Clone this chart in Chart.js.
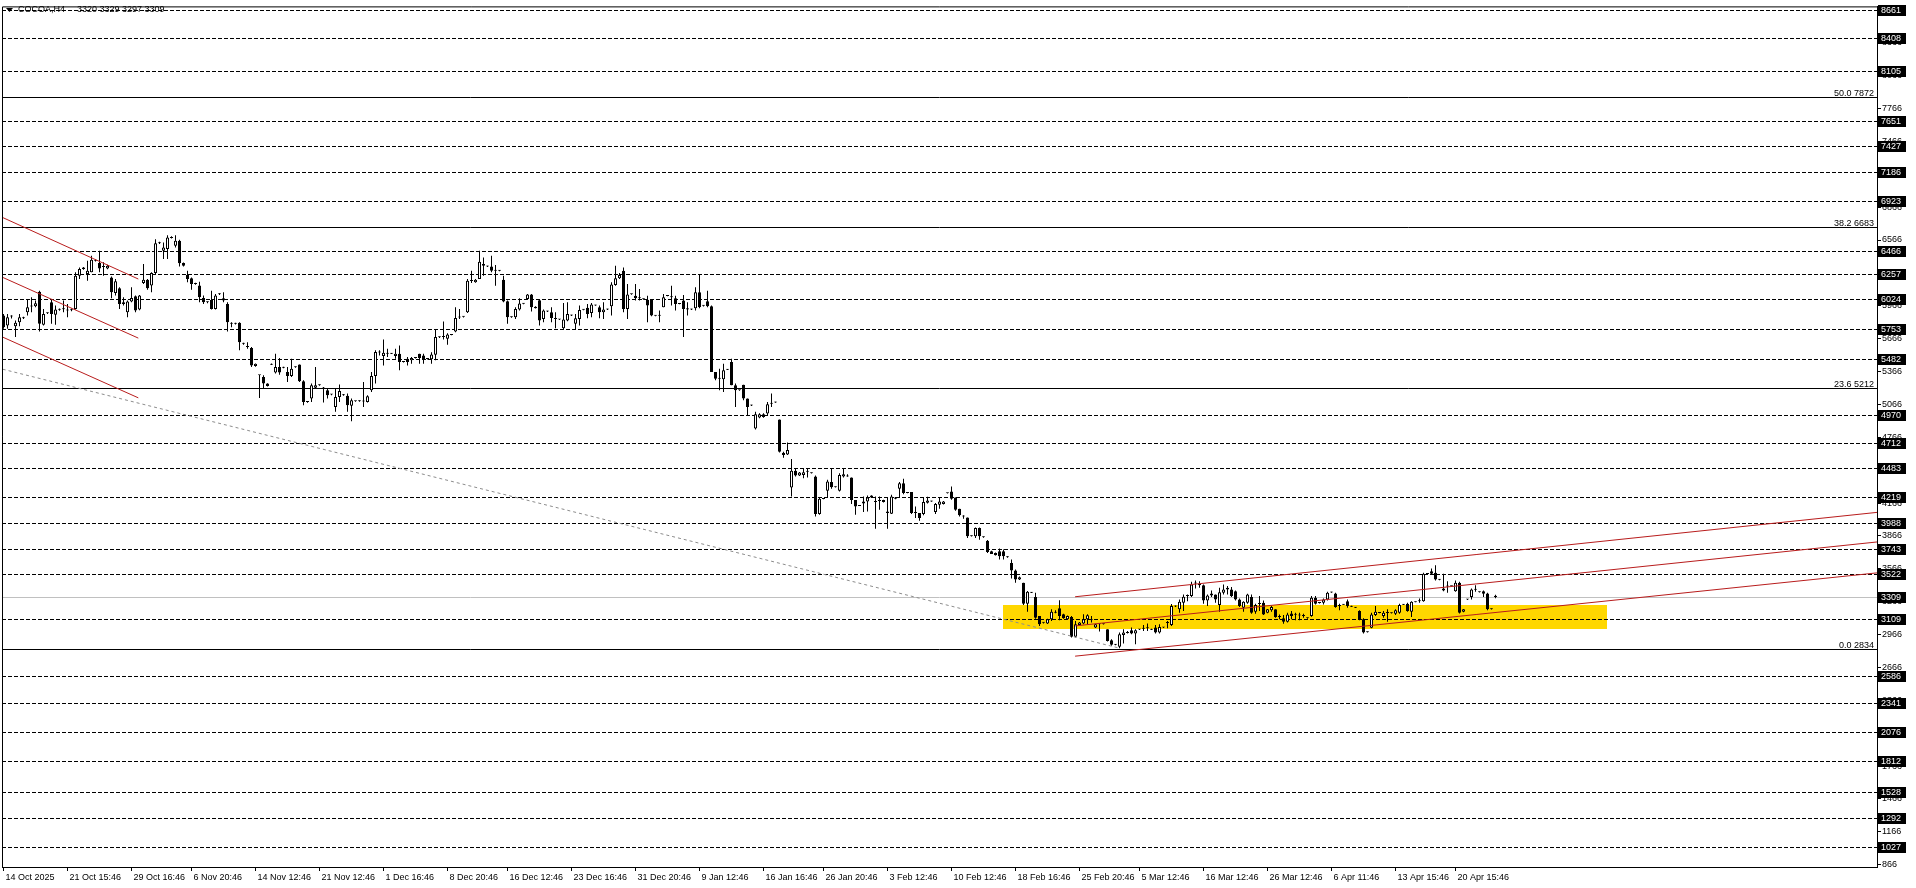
<!DOCTYPE html>
<html>
<head>
<meta charset="utf-8">
<title>COCOA,H4</title>
<script src="https://cdn.jsdelivr.net/npm/chart.js@4.4.1/dist/chart.umd.min.js"></script>
<style>
  html, body { margin: 0; padding: 0; background: #fff; }
  #wrap { width: 1916px; height: 888px; }
</style>
</head>
<body>
<div id="wrap"><canvas id="chartCocoa" width="1916" height="888"></canvas></div>
<script>
// COCOA H4 - velas (una por barra, 374 barras)
const opens = [
  5877,5786,5868,5780,5816,5855,5907,5959,5962,6095, 5792,5898,5998,5883,5929,5935,5930,5925,5937,6240,
  6301,6256,6271,6380,6356,6320,6307,6225,6083,6125, 5983,5907,6004,6053,5931,6174,6204,6150,6265,6537,
  6468,6483,6585,6513,6559,6356,6247,6216,6168,6150, 6037,6000,6019,5937,6070,6034,5983,5805,5803,5810,
  5622,5595,5580,5416,5333,5316,5256,5430,5356,5407, 5400,5362,5325,5405,5431,5277,5090,5119,5219,5243,
  5212,5195,5158,5043,5134,5155,5144,5053,5095,5097, 5092,5089,5195,5325,5540,5507,5528,5530,5507,5528,
  5456,5483,5468,5490,5528,5513,5480,5477,5519,5678, 5680,5664,5700,5731,5858,5865,5907,6192,6180,6210,
  6346,6327,6325,6288,6286,6204,6007,5863,5861,5931, 5984,6028,6068,5958,6016,5846,5916,5907,5855,5842,
  5761,5831,5878,5801,5846,5929,5949,5901,5970,5952, 5907,5933,5961,6155,6216,6286,5937,6070,6058,6037,
  6028,6022,6022,5875,5875,5952,6055,6045,6034,5985, 6013,5943,5933,5943,6089,5965,6007,5961,5362,5305,
  5295,5383,5453,5240,5197,5246,5119,5055,4846,4946, 4977,4983,5072,5083,4928,4625,4610,4308,4460,4417,
  4423,4452,4440,4408,4066,4203,4278,4357,4313,4278, 4408,4410,4399,4193,4140,4163,4181,4217,4181,4185,
  4175,4090,4069,4217,4296,4347,4260,4266,4078,4075, 4066,4169,4183,4084,4151,4157,4255,4272,4217,4114,
  4047,4035,3866,3863,3938,3855,3823,3726,3711,3726, 3726,3675,3620,3551,3469,3439,3248,3350,3308,3135,
  3073,3066,3105,3168,3205,3151,3105,3126,2945,3054, 3066,3105,3100,3030,3062,3063,3014,2914,2875,2854,
  2963,2983,3005,2975,3012,3020,3025,3013,3030,2984, 3032,3072,3054,3222,3196,3256,3317,3317,3432,3429,
  3417,3277,3323,3332,3235,3347,3377,3377,3362,3287, 3211,3256,3308,3174,3244,3256,3165,3187,3196,3128,
  3114,3084,3159,3147,3140,3138,3117,3135,3302,3253, 3256,3287,3350,3341,3226,3238,3271,3223,3213,3180,
  3105,2988,3029,3144,3162,3135,3162,3160,3156,3165, 3238,3247,3174,3262,3270,3271,3518,3544,3529,3466,
  3368,3405,3406,3362,3438,3174,3285,3308,3375,3353, 3362,3341,3198,3320
];
const highs = [
  5892,5892,5880,5831,5892,5866,6028,6044,6013,6104, 5937,5905,6028,5968,5940,6013,5983,5940,6271,6316,
  6320,6377,6422,6390,6468,6362,6340,6234,6210,6134, 6044,6013,6134,6059,6065,6347,6210,6271,6574,6550,
  6543,6610,6600,6610,6568,6360,6286,6225,6175,6186, 6059,6005,6104,6074,6080,6089,5998,5816,5810,5816,
  5628,5634,5589,5440,5335,5331,5260,5440,5528,5489, 5410,5407,5483,5412,5431,5286,5095,5256,5407,5248,
  5225,5210,5162,5210,5247,5160,5165,5119,5100,5103, 5271,5150,5362,5559,5559,5658,5574,5535,5574,5604,
  5462,5498,5498,5495,5528,5528,5486,5543,5749,5685, 5822,5716,5706,5952,5937,5870,6210,6286,6210,6467,
  6407,6332,6422,6337,6292,6240,6013,5868,5952,6034, 5990,6074,6074,5962,6022,5931,5920,5952,5907,5846,
  5992,5998,5884,5892,5968,5935,5983,5992,5975,5968, 5998,5938,6180,6331,6264,6316,6164,6076,6164,6119,
  6032,6058,6022,5880,5922,6074,6062,6149,6058,5990, 6064,5998,5938,6134,6255,5970,6104,5968,5362,5392,
  5437,5390,5483,5256,5200,5246,5119,5062,4998,4985, 4985,5089,5165,5090,4928,4634,4719,4569,4478,4450,
  4484,4484,4445,4417,4217,4208,4378,4478,4318,4438, 4478,4429,4399,4193,4146,4226,4235,4238,4226,4226,
  4196,4217,4241,4222,4357,4387,4265,4266,4135,4075, 4211,4223,4188,4166,4217,4185,4260,4317,4217,4114,
  4054,4035,3870,3944,3944,3860,3829,3730,3715,3751, 3742,3680,3651,3560,3495,3439,3363,3355,3348,3135,
  3078,3110,3196,3187,3278,3155,3140,3135,3090,3080, 3151,3151,3135,3065,3066,3067,3014,2923,2880,2984,
  3014,2999,3030,3014,3017,3054,3066,3018,3054,3060, 3036,3090,3245,3232,3287,3332,3332,3447,3459,3453,
  3423,3332,3368,3332,3393,3423,3408,3399,3368,3296, 3271,3338,3332,3247,3317,3277,3200,3226,3196,3150,
  3144,3165,3180,3165,3165,3156,3122,3317,3317,3258, 3296,3356,3356,3347,3247,3243,3287,3228,3218,3187,
  3114,2993,3165,3226,3168,3180,3196,3168,3196,3247, 3244,3256,3271,3268,3296,3529,3524,3568,3599,3472,
  3520,3453,3412,3459,3447,3200,3290,3387,3417,3359, 3368,3347,3203,3329
];
const lows = [
  5756,5756,5850,5680,5780,5845,5877,5907,5953,5731, 5786,5890,5801,5792,5920,5907,5862,5915,5931,6210,
  6295,6195,6271,6370,6271,6240,6300,6034,6059,5937, 5968,5862,5998,5907,5925,6165,6113,6089,6256,6530,
  6392,6392,6580,6498,6325,6325,6180,6113,6158,5998, 5983,5990,5931,5931,6065,5998,5731,5771,5795,5559,
  5610,5574,5407,5410,5125,5210,5230,5425,5347,5337, 5395,5271,5316,5400,5271,5059,5080,5089,5210,5236,
  5083,5119,5150,4998,5089,5145,4998,4913,5090,5090, 5043,5083,5180,5256,5513,5422,5498,5525,5483,5377,
  5448,5422,5437,5485,5437,5437,5475,5437,5468,5672, 5658,5610,5696,5725,5846,5860,5901,6174,6176,6210,
  6240,6320,6271,6149,6282,5998,5801,5856,5846,5922, 5980,6022,5913,5940,5786,5816,5910,5816,5761,5836,
  5755,5825,5872,5749,5786,5925,5852,5861,5965,5852, 5846,5928,5877,6149,6210,5907,5846,6066,6013,6013,
  6020,5816,5871,5870,5816,5952,6052,5968,5922,5980, 5680,5877,5928,5922,5943,5960,5952,5362,5286,5195,
  5180,5380,5240,5043,5190,5104,4968,5052,4837,4940, 4945,4968,5043,5080,4628,4580,4604,4226,4408,4412,
  4393,4399,4435,4044,4060,4200,4211,4296,4308,4272, 4399,4405,4157,4060,4138,4084,4090,4212,3932,4105,
  4170,3932,4066,4200,4211,4247,4255,4066,4029,4005, 4054,4163,4178,4066,4114,4152,4252,4196,4096,4044,
  4023,3848,3860,3848,3832,3850,3711,3700,3688,3651, 3651,3668,3478,3439,3465,3235,3175,3345,3111,3045,
  3068,3062,3090,3160,3096,3110,3100,2939,2939,3050, 3060,3060,3075,3025,2993,3057,2902,2863,2868,2842,
  2884,2975,2969,2878,3008,2999,2999,3008,2975,2975, 3026,3023,3045,3218,3165,3180,3271,3308,3387,3393,
  3247,3226,3308,3256,3174,3332,3332,3308,3277,3217, 3174,3247,3156,3156,3180,3144,3160,3174,3120,3105,
  3065,3075,3105,3096,3096,3120,3110,3129,3241,3250, 3241,3277,3347,3211,3187,3235,3211,3218,3208,3096,
  2975,2985,3023,3135,3160,3120,3084,3158,3144,3156, 3236,3174,3126,3260,3256,3265,3514,3514,3459,3462,
  3362,3347,3404,3356,3159,3170,3282,3287,3356,3350, 3308,3187,3194,3297
];
const closes = [
  5771,5862,5871,5810,5862,5853,5953,5962,5989,5801, 5892,5901,5892,5931,5931,5937,5922,5931,6240,6301,
  6316,6286,6386,6377,6307,6325,6331,6089,6189,5983, 5998,6004,6037,5922,6059,6204,6125,6265,6537,6543,
  6498,6589,6589,6559,6353,6331,6210,6165,6165,6044, 5998,5998,5937,6059,6074,6013,5816,5801,5801,5634,
  5619,5589,5422,5437,5331,5256,5235,5428,5407,5356, 5401,5325,5392,5407,5277,5089,5089,5241,5241,5241,
  5210,5150,5156,5134,5189,5150,5059,5104,5095,5095, 5095,5141,5325,5544,5544,5537,5530,5528,5528,5452,
  5453,5453,5489,5492,5489,5477,5483,5522,5680,5680, 5680,5704,5701,5855,5861,5867,6195,6195,6204,6367,
  6331,6325,6286,6286,6289,6004,5861,5861,5937,5986, 5986,6068,5952,5943,5831,5922,5913,5855,5846,5840,
  5840,5892,5877,5852,5928,5931,5892,5977,5968,5907, 5931,5931,6161,6216,6246,5937,6068,6074,6034,6034,
  6025,5968,5877,5877,5877,6043,6058,6043,5983,5983, 5937,5931,5931,6089,5952,5968,5961,5362,5301,5301,
  5377,5386,5240,5195,5195,5119,5043,5059,4977,4977, 4952,5068,5074,5086,4634,4604,4649,4460,4417,4444,
  4448,4454,4438,4066,4205,4205,4363,4311,4311,4423, 4429,4408,4193,4135,4144,4181,4217,4235,4175,4187,
  4193,4075,4226,4205,4347,4257,4257,4075,4075,4029, 4175,4190,4181,4157,4181,4181,4257,4205,4105,4054,
  4044,3863,3863,3938,3863,3854,3720,3702,3690,3681, 3681,3672,3551,3469,3490,3248,3357,3348,3120,3060,
  3075,3105,3175,3166,3135,3114,3135,2945,3060,3075, 3105,3142,3096,3060,3060,3060,2908,2872,2872,2969,
  2984,2981,2975,3005,3014,3023,3023,3011,2984,3036, 3030,3075,3226,3226,3265,3311,3323,3423,3438,3417,
  3277,3323,3341,3287,3353,3377,3393,3317,3287,3226, 3265,3332,3165,3235,3247,3150,3196,3217,3126,3126,
  3084,3150,3135,3150,3144,3135,3114,3302,3247,3256, 3287,3347,3353,3217,3232,3241,3226,3220,3211,3105,
  2984,2990,3150,3174,3165,3165,3165,3165,3187,3235, 3241,3180,3265,3265,3271,3520,3520,3520,3468,3468,
  3387,3408,3408,3438,3165,3196,3287,3377,3377,3356, 3338,3196,3196,3309
];

// eje de tiempo: barra donde cae cada etiqueta
const dateLabels = ['14 Oct 2025','21 Oct 15:46','29 Oct 16:46','6 Nov 20:46','14 Nov 12:46','21 Nov 12:46',
  '1 Dec 16:46','8 Dec 20:46','16 Dec 12:46','23 Dec 16:46','31 Dec 20:46','9 Jan 12:46','16 Jan 16:46',
  '26 Jan 20:46','3 Feb 12:46','10 Feb 12:46','18 Feb 16:46','25 Feb 20:46','5 Mar 12:46','16 Mar 12:46',
  '26 Mar 12:46','6 Apr 11:46','13 Apr 15:46','20 Apr 15:46'];
const dateBars = [0,16,32,47,63,79,95,111,126,142,158,174,190,205,221,237,253,269,284,300,316,332,348,363];

// eje de precios
const priceTicks = [866,1166,1466,1766,2066,2366,2666,2966,3266,3566,3866,4166,4466,4766,5066,5366,5666,
  5966,6266,6566,6866,7166,7466,7766,8066,8366,8666];
const levels = [8661,8408,8105,7651,7427,7186,6923,6466,6257,6024,5753,5482,4970,4712,4483,4219,3988,3743,
  3522,3109,2586,2341,2076,1812,1528,1292,1027];
const lastPrice = 3309;
const fibLevels = [7872,6683,5212,2834];
const fibNames = ['50.0','38.2','23.6','0.0'];
const headerVals = [3320,3329,3297,3309];

// zona amarilla y lineas de tendencia: [barra, precio, barra, precio]
const zone = [249.8, 3020, 400.8, 3236];
const downChannel = [[-0.2,6771,33.7,6210],[-0.2,6225,33.7,5671],[-0.2,5680,33.7,5126]];
const upChannel = [[267.9,3311,468.4,4081],[267.9,3045,468.4,3811],[267.9,2769,468.4,3529]];
const dottedLine = [-0.2,5387,279,2842];

const FONT = { family: "'Liberation Sans', Arial, sans-serif", size: 9 };
const RED = '#b81c1c';

const idx = opens.map((_, i) => i);

const overlays = {
  id: 'overlays',
  beforeDatasetsDraw(chart) {
    const { ctx, chartArea: a, scales: { x, y } } = chart;
    ctx.save();
    ctx.beginPath();
    ctx.rect(a.left, a.top, a.right - a.left, a.bottom - a.top);
    ctx.clip();

    // zona de soporte
    const zx0 = Math.round(x.getPixelForValue(zone[0]));
    const zx1 = Math.round(x.getPixelForValue(zone[2]));
    const zy0 = Math.round(y.getPixelForValue(zone[3]));
    const zy1 = Math.round(y.getPixelForValue(zone[1]));
    ctx.fillStyle = '#ffd700';
    ctx.fillRect(zx0, zy0, zx1 - zx0, zy1 - zy0);

    ctx.lineWidth = 1;
    // precio actual
    let py = Math.round(y.getPixelForValue(lastPrice)) + 0.5;
    ctx.strokeStyle = '#c0c0c0';
    ctx.beginPath(); ctx.moveTo(a.left, py); ctx.lineTo(a.right, py); ctx.stroke();

    // niveles horizontales
    ctx.strokeStyle = '#000';
    ctx.setLineDash([4, 2]);
    levels.forEach(v => {
      const p = Math.round(y.getPixelForValue(v)) + 0.5;
      ctx.beginPath(); ctx.moveTo(a.left, p); ctx.lineTo(a.right, p); ctx.stroke();
    });
    ctx.setLineDash([]);

    // fibonacci
    ctx.font = `${FONT.size}px ${FONT.family}`;
    ctx.fillStyle = '#000';
    ctx.textAlign = 'right';
    ctx.textBaseline = 'alphabetic';
    fibLevels.forEach((v, i) => {
      const p = Math.round(y.getPixelForValue(v)) + 0.5;
      ctx.beginPath(); ctx.moveTo(a.left, p); ctx.lineTo(a.right, p); ctx.stroke();
      ctx.fillText(fibNames[i] + ' ' + v, a.right - 3, p - 2);
    });
    ctx.restore();
  },
  afterDraw(chart) {
    const { ctx, chartArea: a, scales: { y } } = chart;
    ctx.save();
    // marco
    ctx.strokeStyle = '#000';
    ctx.lineWidth = 1;
    ctx.beginPath();
    ctx.moveTo(a.left + 0.5, a.bottom);
    ctx.lineTo(a.left + 0.5, a.top + 0.5);
    ctx.lineTo(a.right, a.top + 0.5);
    ctx.stroke();

    // etiquetas de precio en negro
    ctx.font = `${FONT.size}px ${FONT.family}`;
    ctx.textAlign = 'left';
    ctx.textBaseline = 'middle';
    levels.concat([lastPrice]).forEach(v => {
      const p = Math.round(y.getPixelForValue(v));
      ctx.fillStyle = '#000';
      ctx.fillRect(a.right + 1, p - 5, 28, 11);
      ctx.fillStyle = '#fff';
      ctx.fillText(String(v), a.right + 4, p + 0.5);
    });

    // cabecera
    ctx.fillStyle = '#000';
    ctx.beginPath();
    ctx.moveTo(6, 8); ctx.lineTo(13, 8); ctx.lineTo(9.5, 12); ctx.closePath(); ctx.fill();
    ctx.fillText('COCOA,H4', 18, 10);
    ctx.fillText(headerVals.join(' '), 77, 10);
    ctx.restore();
  }
};

new Chart(document.getElementById('chartCocoa'), {
  type: 'bar',
  data: {
    datasets: [
      { type: 'line', data: [{ x: dottedLine[0], y: dottedLine[1] }, { x: dottedLine[2], y: dottedLine[3] }],
        borderColor: '#8c8c8c', borderWidth: 1, borderDash: [3, 3], pointRadius: 0, order: 1 },
      ...downChannel.concat(upChannel).map(l => ({
        type: 'line', data: [{ x: l[0], y: l[1] }, { x: l[2], y: l[3] }],
        borderColor: RED, borderWidth: 1, pointRadius: 0, order: 0
      })),
      { label: 'wick', data: idx.map(i => ({ x: i, y: [lows[i], highs[i]] })),
        backgroundColor: '#000', barThickness: 1, grouped: false, inflateAmount: 0, order: 3 },
      { label: 'body', data: idx.map(i => ({ x: i, y: [opens[i], closes[i]] })),
        backgroundColor: idx.map(i => closes[i] >= opens[i] ? '#fff' : '#000'),
        borderColor: '#000', borderWidth: 1, borderSkipped: false, barThickness: 3, minBarLength: 1,
        grouped: false, inflateAmount: 0, order: 2 }
    ]
  },
  options: {
    responsive: false,
    animation: false,
    events: [],
    layout: { padding: { left: 2, top: 3, right: 0, bottom: 0 } },
    plugins: { legend: { display: false }, tooltip: { enabled: false } },
    scales: {
      x: {
        type: 'linear', position: 'bottom', min: -0.375, max: 468.375, bounds: 'data', offset: false,
        afterBuildTicks: s => { s.ticks = dateBars.map(v => ({ value: v })); },
        afterFit: s => { s.height = 21; },
        grid: { drawOnChartArea: false, tickLength: 4, color: '#000', offset: false },
        border: { color: '#000' },
        ticks: { autoSkip: false, maxRotation: 0, align: 'start', labelOffset: 2, padding: 1,
          color: '#000', font: FONT, callback: (v, i) => dateLabels[i] }
      },
      y: {
        type: 'linear', position: 'right', min: 845.3, max: 8697.4, bounds: 'data', offset: false,
        afterBuildTicks: s => { s.ticks = priceTicks.map(v => ({ value: v })); },
        afterFit: s => { s.width = 39; },
        grid: { drawOnChartArea: false, tickLength: 4, color: '#000' },
        border: { color: '#000' },
        ticks: { padding: 1, color: '#000', font: FONT, callback: v => String(v) }
      }
    }
  },
  plugins: [overlays]
});
</script>
</body>
</html>
